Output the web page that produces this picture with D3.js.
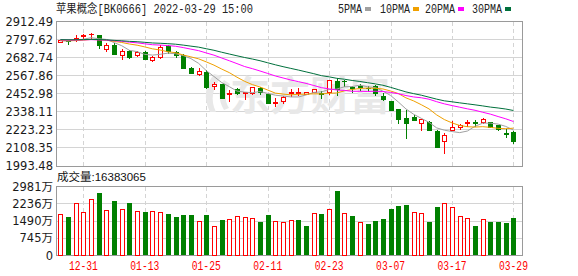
<!DOCTYPE html>
<html>
<head>
<meta charset="utf-8">
<script src="https://cdn.jsdelivr.net/npm/d3@7"></script>
<style>
  body { margin: 0; background: #fff; }
  svg { display: block; }
</style>
</head>
<body>
<svg id="chart" width="578" height="276"></svg>
<script>
// ---- data ----
const dates = ["12-28","12-29","12-30","12-31","01-04","01-05","01-06","01-07","01-10","01-11",
  "01-12","01-13","01-14","01-17","01-18","01-19","01-20","01-21","01-24","01-25",
  "01-26","01-27","01-28","02-07","02-08","02-09","02-10","02-11","02-14","02-15",
  "02-16","02-17","02-18","02-21","02-22","02-23","02-24","02-25","02-28","03-01",
  "03-02","03-03","03-04","03-07","03-08","03-09","03-10","03-11","03-14","03-15",
  "03-16","03-17","03-18","03-21","03-22","03-23","03-24","03-25","03-28","03-29"];

const opens = [2784,2790,2801,2820,2831,2827,2740,2761,2701,2725,
  2698,2720,2670,2685,2757,2716,2699,2615,2577,2593,
  2502,2513,2450,2481,2457,2460,2491,2449,2392,2409,
  2456,2455,2452,2467,2460,2461,2536,2536,2494,2502,
  2491,2502,2441,2407,2356,2301,2307,2264,2275,2216,
  2154,2222,2240,2265,2271,2271,2273,2252,2205,2212];
const highs = [2797,2791,2825,2833,2839,2829,2776,2774,2738,2731,
  2725,2723,2693,2763,2760,2724,2706,2625,2615,2604,
  2526,2516,2477,2492,2462,2495,2493,2452,2424,2436,
  2481,2487,2466,2483,2472,2542,2551,2538,2502,2513,
  2502,2509,2456,2410,2358,2350,2318,2292,2277,2220,
  2201,2280,2258,2286,2286,2301,2275,2254,2227,2214];
const lows = [2780,2771,2790,2808,2810,2742,2725,2706,2676,2682,
  2695,2673,2661,2680,2712,2688,2615,2584,2575,2490,
  2481,2425,2407,2451,2418,2450,2451,2394,2377,2396,
  2441,2445,2450,2465,2428,2450,2445,2500,2466,2476,
  2470,2445,2413,2348,2265,2174,2285,2222,2220,2115,
  2078,2221,2229,2250,2250,2264,2240,2225,2176,2142];
const closes = [2793,2786,2808,2825,2835,2761,2763,2708,2725,2688,
  2720,2676,2685,2750,2725,2700,2619,2588,2600,2494,
  2513,2428,2456,2459,2461,2494,2466,2396,2402,2434,
  2466,2464,2462,2481,2452,2540,2481,2533,2488,2498,
  2487,2456,2420,2350,2292,2264,2287,2290,2223,2116,
  2191,2243,2256,2273,2268,2290,2242,2227,2199,2152];
// volume in 万 (10k)
const volumes = [1796,1666,2261,1870,2434,2708,1957,2360,2000,2274,
  1914,1883,1914,1870,1796,1666,1753,1753,1480,1753,
  1263,1536,1566,1697,1653,1610,1449,1753,1480,1436,
  1523,1536,1276,1827,1796,2000,2794,1827,1710,1436,
  1362,1493,1579,2013,2143,2187,1870,1827,1449,2100,
  2261,2087,1697,1610,1276,1566,1449,1449,1406,1638.3];
const lastVolume = 16383065;

// closes before 12-28 (not drawn), estimated from where the MA lines start
const priorCloses = [2812,2805,2798,2790,2801,2809,2815,2806,2794,2788,
  2796,2803,2810,2804,2797,2791,2785,2793,2800,2806,
  2798,2802,2795,2788,2784,2790,2786,2792,2787];

const priceTicks = ["2912.49","2797.62","2682.74","2567.86","2452.98","2338.11","2223.23","2108.35","1993.48"];
const volTicks = ["2981万","2236万","1490万","745万","0"];
const volTickValues = [2981, 2236, 1490, 745, 0];
const xLabels = ["12-31","01-13","01-25","02-11","02-23","03-07","03-17","03-29"];

const maPeriods = [5, 10, 20, 30];
const maNames = ["5PMA", "10PMA", "20PMA", "30PMA"];
const maColors = ["#a0a0a0", "#f0a000", "#ff00ff", "#00703c"];

const title = "苹果概念[BK0666] 2022-03-29 15:00";

// ---- layout ----
const svg = d3.select("#chart");
const L = 56, R = 522;
const mainTop = 21.5, mainBot = 166;
const volTop = 186.5, volBot = 255.5;
const UP = "#ff0000", DOWN = "#008000";
const frameColor = "#9a9a9a", gridColor = "#d4d4d4";

const x = d3.scaleBand().domain(dates).range([56.5, 56.5 + 60 * 7.68]).padding(0);
const cx = d => Math.round(x(d) + x.bandwidth() / 2) + 0.5;
const yMain = d3.scaleLinear().domain([1993.48, 2912.49]).range([mainBot, mainTop]);
const yVol = d3.scaleLinear().domain([0, 2981]).range([volBot, volTop]);
const px = v => Math.floor(v) + 0.5;

// ---- grid & frames ----
function panel(top, bot, hVals) {
  const g = svg.append("g").attr("shape-rendering", "crispEdges");
  g.selectAll("line.h").data(hVals).enter().append("line")
    .attr("x1", L + 0.5).attr("x2", R + 0.5)
    .attr("y1", d => d).attr("y2", d => d)
    .attr("stroke", gridColor);
  g.selectAll("line.v").data(xLabels).enter().append("line")
    .attr("x1", d => cx(d)).attr("x2", d => cx(d))
    .attr("y1", top).attr("y2", bot)
    .attr("stroke", gridColor).attr("stroke-dasharray", "4,3");
  g.append("rect")
    .attr("x", L + 0.5).attr("y", top)
    .attr("width", R - L).attr("height", bot - top)
    .attr("fill", "none").attr("stroke", frameColor);
}
panel(mainTop, px(mainBot), priceTicks.map(t => px(yMain(+t))));
panel(volTop, volBot, volTickValues.map(v => px(yVol(v))));

// watermark (logo swoosh + name)
const wm = svg.append("g").attr("fill", "#e8e8e8");
wm.append("path")
  .attr("d", "M214,74 C205,86 203,98 210,112 L216,112 C210,100 212,88 222,76 Z M224,80 C218,90 218,100 224,110 L229,108 C224,100 225,92 230,84 Z");
wm.append("text")
  .attr("x", 230).attr("y", 110)
  .attr("font-family", "Noto Sans CJK SC").attr("font-weight", 700)
  .attr("font-size", 40)
  .text("东方财富");

// ---- axes labels ----
const yAxisMain = d3.axisLeft(yMain)
  .tickValues(priceTicks.map(Number))
  .tickFormat((d, i) => priceTicks[i])
  .tickSize(0).tickPadding(3);
svg.append("g").attr("transform", `translate(${L},0)`).call(yAxisMain)
  .call(g => g.select(".domain").remove())
  .selectAll("text")
  .attr("font-family", "DejaVu Sans").attr("font-size", 11.5).attr("fill", "#1a1a1a");

const yAxisVol = d3.axisLeft(yVol)
  .tickValues(volTickValues)
  .tickFormat((d, i) => volTicks[i])
  .tickSize(0).tickPadding(3);
svg.append("g").attr("transform", `translate(${L},0)`).call(yAxisVol)
  .call(g => g.select(".domain").remove())
  .selectAll("text")
  .attr("font-family", "DejaVu Sans, Noto Sans CJK SC").attr("font-size", 11.5).attr("fill", "#1a1a1a");

const xAxis = d3.axisBottom(x).tickValues(xLabels).tickSize(0).tickPadding(6);
svg.append("g").attr("transform", `translate(0,${volBot})`).call(xAxis)
  .call(g => g.select(".domain").remove())
  .selectAll("text")
  .attr("font-family", "Liberation Mono").attr("font-size", 12)
  .attr("fill", UP)
  .attr("textLength", 29).attr("lengthAdjust", "spacingAndGlyphs");

// ---- candles ----
const bars = dates.map((d, i) => ({
  d, o: opens[i], h: highs[i], l: lows[i], c: closes[i], v: volumes[i],
  prev: i > 0 ? closes[i - 1] : opens[0]
}));

const candles = svg.append("g").attr("shape-rendering", "crispEdges");
bars.forEach(b => {
  const xc = cx(b.d);
  const up = b.c >= b.o;
  const col = up ? UP : DOWN;
  const yTop = Math.round(yMain(Math.max(b.o, b.c)));
  const yBot = Math.round(yMain(Math.min(b.o, b.c)));
  candles.append("line")
    .attr("x1", xc).attr("x2", xc)
    .attr("y1", Math.round(yMain(b.h))).attr("y2", Math.round(yMain(b.l)) + 1)
    .attr("stroke", col);
  if (yBot - yTop < 2) {
    candles.append("rect")
      .attr("x", xc - 2.5).attr("y", yTop)
      .attr("width", 5).attr("height", Math.max(1, yBot - yTop + 1))
      .attr("fill", col);
  } else if (up) {
    candles.append("rect")
      .attr("x", xc - 2).attr("y", yTop + 0.5)
      .attr("width", 4).attr("height", yBot - yTop)
      .attr("fill", "#fff").attr("stroke", col);
  } else {
    candles.append("rect")
      .attr("x", xc - 2.5).attr("y", yTop)
      .attr("width", 5).attr("height", yBot - yTop + 1)
      .attr("fill", col);
  }
});

// ---- moving averages ----
const allCloses = priorCloses.concat(closes);
const offset = priorCloses.length;
maPeriods.forEach((n, k) => {
  const vals = dates.map((d, i) => {
    const end = offset + i + 1;
    return { d, v: d3.mean(allCloses.slice(end - n, end)) };
  });
  svg.append("path")
    .datum(vals)
    .attr("fill", "none")
    .attr("stroke", maColors[k])
    .attr("stroke-width", 1)
    .attr("d", d3.line().x(p => x(p.d) + x.bandwidth() / 2).y(p => yMain(p.v)));
});

// ---- volume bars ----
const vg = svg.append("g").attr("shape-rendering", "crispEdges");
bars.forEach(b => {
  const xc = cx(b.d);
  const up = b.c >= b.prev;
  const yT = Math.round(yVol(b.v));
  if (up) {
    vg.append("rect")
      .attr("x", xc - 2).attr("y", yT + 0.5)
      .attr("width", 4).attr("height", volBot - 0.5 - yT - 0.5)
      .attr("fill", "#fff").attr("stroke", UP);
  } else {
    vg.append("rect")
      .attr("x", xc - 2.5).attr("y", yT)
      .attr("width", 5).attr("height", volBot - 0.5 - yT)
      .attr("fill", DOWN);
  }
});

// ---- title, legend, volume caption ----
svg.append("text")
  .attr("x", 56).attr("y", 12.5)
  .attr("font-family", "Liberation Mono, Noto Sans CJK SC").attr("font-size", 12)
  .attr("fill", "#222")
  .attr("textLength", 197).attr("lengthAdjust", "spacingAndGlyphs")
  .text(title);

const legendX = [338, 380, 425, 472];
maNames.forEach((name, k) => {
  svg.append("text")
    .attr("x", legendX[k]).attr("y", 12.5)
    .attr("font-family", "Liberation Mono").attr("font-size", 12)
    .attr("fill", "#222")
    .attr("textLength", name.length * 6).attr("lengthAdjust", "spacingAndGlyphs")
    .text(name);
  svg.append("rect")
    .attr("x", legendX[k] + name.length * 6 + 3).attr("y", 7)
    .attr("width", 6).attr("height", 4)
    .attr("fill", maColors[k]);
});

svg.append("text")
  .attr("x", 57).attr("y", 180.5)
  .attr("font-family", "Liberation Sans, Noto Sans CJK SC").attr("font-size", 11.5)
  .attr("fill", "#111")
  .text("成交量:" + lastVolume);
</script>
</body>
</html>
